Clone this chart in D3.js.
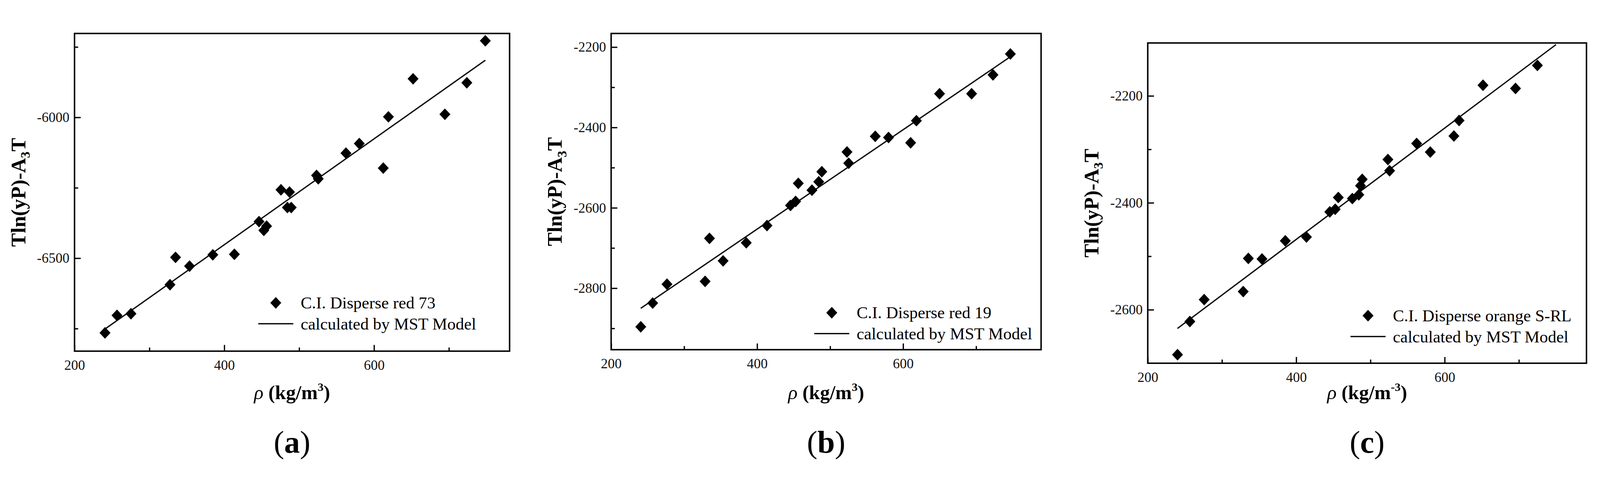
<!DOCTYPE html>
<html><head><meta charset="utf-8">
<script src="https://cdn.jsdelivr.net/npm/d3@7"></script>
<style>html,body{margin:0;padding:0;background:#fff;overflow:hidden;width:100%;height:100%}svg{display:block;width:100vw;height:100vh}</style>
</head><body>
<script>
// ---- data ----
const rho = [240.7,256.7,275.4,327.5,334.9,353.6,384.7,413.5,446.4,452.8,456.5,475.7,487.1,484.3,489.4,523.2,525.5,562.5,580.3,612.3,619.2,652.1,694.6,723.9,748.6];
const valsA = [-6765,-6703,-6697,-6594,-6497,-6528,-6488,-6486,-6370,-6401,-6386,-6257,-6265,-6320,-6320,-6206,-6218,-6127,-6093,-6180,-5998,-5863,-5989,-5877,-5728];
const rhoB = [240.6,256.9,276.5,328.7,334.7,353.4,385.1,413.5,445.7,452.7,456.4,475.1,484.4,488.6,523.1,525.4,561.8,580.0,610.3,618.2,649.9,693.8,723.1,746.9];
const valsB = [-2896,-2837,-2790,-2783,-2676,-2732,-2687,-2644,-2594,-2584,-2539,-2556,-2535,-2510,-2461,-2489,-2422,-2425,-2438,-2383,-2316,-2316,-2269,-2217];
const rhoC = [240.1,256.7,276.0,328.6,335.5,353.9,385.3,413.8,445.2,452.5,456.7,475.6,484.3,486.6,488.9,523.5,525.8,562.2,580.6,612.4,619.4,651.6,695.4,724.9];
const valsC = [-2684,-2622,-2581,-2566,-2504,-2505,-2471,-2464,-2417,-2412,-2390,-2392,-2385,-2368,-2356,-2319,-2340,-2289,-2305,-2275,-2246,-2180,-2186,-2143];
const fitA = [[242,-6749],[748.6,-5797]];
const fitB = [[240.6,-2850],[746.9,-2224]];
const fitC = [[240,-2635],[750,-2104]];
const xTicks = [200,400,600];
const yTicksA = [-6500,-6000];
const yTicksB = [-2800,-2600,-2400,-2200];
const yTicksC = [-2600,-2400,-2200];
const names = ["C.I. Disperse red 73","C.I. Disperse red 19","C.I. Disperse orange S-RL"];
const fitName = "calculated by MST Model";
const panelLabels = ["a","b","c"];

const W=4380,H=1256;
const svg=d3.select("body").append("svg").attr("viewBox",`0 0 ${W} ${H}`).attr("preserveAspectRatio","xMidYMid meet");
const serif="'Liberation Serif','Times New Roman',serif";

const panels=[
 {xs:rho,ys:valsA,fit:fitA,yt:yTicksA,box:[204,1395,48,917],xd:[200,781],yd:[-6830,-5702],name:names[0],lab:panelLabels[0],leg:[755,785],unit:"3"},
 {xs:rhoB,ys:valsB,fit:fitB,yt:yTicksB,box:[1673,2850,48,913],xd:[200,789],yd:[-2953,-2166],name:names[1],lab:panelLabels[1],leg:[2277,812],unit:"3"},
 {xs:rhoC,ys:valsC,fit:fitC,yt:yTicksC,box:[3142,4343,74,950],xd:[200,791],yd:[-2700,-2101],name:names[2],lab:panelLabels[2],leg:[3745,820],unit:"-3"}
];

panels.forEach(p=>{
  const [l,r,t,b]=p.box;
  const x=d3.scaleLinear().domain(p.xd).range([l,r]);
  const y=d3.scaleLinear().domain(p.yd).range([b,t]);
  const g=svg.append("g");
  const step=p.yt[1]-p.yt[0];
  const yMinor=d3.range(p.yt[0]-step/2,p.yd[1],step).filter(v=>v>p.yd[0]&&v<p.yd[1]);
  const xMinor=[300,500,700];
  g.append("g").attr("transform",`translate(0,${b})`)
    .call(d3.axisBottom(x).tickValues(xTicks).tickSizeInner(-17).tickSizeOuter(0).tickPadding(24));
  g.append("g").attr("transform",`translate(0,${b})`)
    .call(d3.axisBottom(x).tickValues(xMinor).tickSizeInner(-10).tickSizeOuter(0).tickFormat(""));
  g.append("g").attr("transform",`translate(${l},0)`)
    .call(d3.axisLeft(y).tickValues(p.yt).tickSizeInner(-17).tickSizeOuter(0).tickPadding(14).tickFormat(d=>String(d)));
  g.append("g").attr("transform",`translate(${l},0)`)
    .call(d3.axisLeft(y).tickValues(yMinor).tickSizeInner(-10).tickSizeOuter(0).tickFormat(""));
  g.selectAll(".domain").remove();
  g.selectAll(".tick line").attr("stroke","#000").attr("stroke-width",3.5);
  g.selectAll(".tick text").attr("font-family",serif).attr("font-size",38).attr("fill","#111");
  g.append("rect").attr("x",l).attr("y",t).attr("width",r-l).attr("height",b-t)
   .attr("fill","none").attr("stroke","#000").attr("stroke-width",4);
  g.append("path").datum(p.fit).attr("d",d3.line().x(d=>x(d[0])).y(d=>y(d[1])))
   .attr("stroke","#000").attr("stroke-width",3.5).attr("fill","none");
  const diamond="M0,-16L15,0L0,16L-15,0Z";
  g.selectAll(".pt").data(p.xs.map((v,i)=>[v,p.ys[i]])).join("path")
   .attr("d",diamond).attr("transform",d=>`translate(${x(d[0])},${y(d[1])})`).attr("fill","#000");
  const [lx,ly]=p.leg;
  g.append("path").attr("d",diamond).attr("transform",`translate(${lx},${ly})`).attr("fill","#000");
  g.append("text").attr("x",lx+68).attr("y",ly+15).attr("font-family",serif).attr("font-size",46).text(p.name);
  g.append("line").attr("x1",lx-48).attr("x2",lx+48).attr("y1",ly+57).attr("y2",ly+57).attr("stroke","#000").attr("stroke-width",3.5);
  g.append("text").attr("x",lx+68).attr("y",ly+73).attr("font-family",serif).attr("font-size",46).text(fitName);
  const cx=(l+r)/2;
  const xt=g.append("text").attr("x",cx).attr("y",1048).attr("text-anchor","middle").attr("font-family",serif).attr("font-size",54).attr("font-weight","bold");
  xt.append("tspan").attr("font-style","italic").attr("font-weight","normal").text("ρ");
  xt.append("tspan").text(" (kg/m");
  xt.append("tspan").attr("font-size",32).attr("dy",-22).text(p.unit);
  xt.append("tspan").attr("dy",22).text(")");
  const yt=g.append("text").attr("transform",`translate(${l-135},${(t+b)/2}) rotate(-90)`)
    .attr("text-anchor","middle").attr("font-family",serif).attr("font-size",56).attr("font-weight","bold");
  yt.append("tspan").text("Tln(yP)-A");
  yt.append("tspan").attr("font-size",36).attr("dy",12).text("3");
  yt.append("tspan").attr("dy",-12).text("T");
  const pl=g.append("text").attr("x",cx).attr("y",1195).attr("text-anchor","middle").attr("font-family",serif).attr("font-size",86);
  pl.append("tspan").text("(");
  pl.append("tspan").attr("font-weight","bold").text(p.lab);
  pl.append("tspan").text(")");
});
</script>
</body></html>
